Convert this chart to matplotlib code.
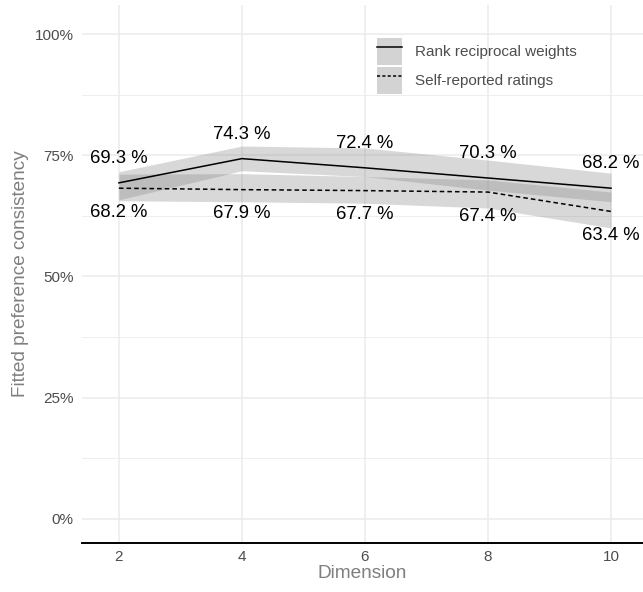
import numpy as np
import matplotlib.pyplot as plt
from matplotlib.lines import Line2D
from matplotlib.patches import Patch
from matplotlib.ticker import FixedLocator, FuncFormatter

plt.rcParams['font.family'] = ['Liberation Sans', 'DejaVu Sans']

# fitted consistency (%) by dimension, with confidence bands
dimension = [2, 4, 6, 8, 10]
rank_fit = [69.3, 74.3, 72.4, 70.3, 68.2]
rank_lo = [65.8, 71.8, 70.6, 67.8, 65.4]
rank_hi = [71.6, 76.9, 76.5, 74.0, 71.3]
self_fit = [68.2, 67.9, 67.7, 67.4, 63.4]
self_lo = [65.6, 65.4, 65.1, 64.1, 60.0]
self_hi = [71.1, 71.2, 70.6, 69.9, 67.4]
series_names = ['Rank reciprocal weights', 'Self-reported ratings']

fig = plt.figure(figsize=(6.43, 5.92), dpi=100)
ax = fig.add_axes([0.1275, 0.0828, 0.8725, 0.9088])

band_kw = dict(color='0.5', alpha=0.3, linewidth=0)
ax.fill_between(dimension, rank_lo, rank_hi, **band_kw)
ax.fill_between(dimension, self_lo, self_hi, **band_kw)
ax.plot(dimension, rank_fit, color='black', lw=1.1, linestyle='-')
ax.plot(dimension, self_fit, color='black', lw=1.1, linestyle=(0, (3, 2)))

# value labels, above the rank line and below the self-reported line
for x, v in zip(dimension, rank_fit):
    ax.text(x, v + 5, f'{v:.1f} %', ha='center', va='center', fontsize=13.3, color='black')
for x, v in zip(dimension, self_fit):
    ax.text(x, v - 5, f'{v:.1f} %', ha='center', va='center', fontsize=13.3, color='black')

ax.set_xlim(1.4, 10.52)
ax.set_ylim(-5, 106)
ax.set_xticks(dimension)
ax.yaxis.set_major_locator(FixedLocator([0, 25, 50, 75, 100]))
ax.yaxis.set_minor_locator(FixedLocator([12.5, 37.5, 62.5, 87.5]))
ax.yaxis.set_major_formatter(FuncFormatter(lambda v, p: f'{v:.0f}%'))

ax.grid(which='major', color='#ebebeb', lw=1.1)
ax.grid(which='minor', axis='y', color='#ebebeb', lw=0.6)
ax.set_axisbelow(True)
for s in ['top', 'right', 'left']:
    ax.spines[s].set_visible(False)
ax.spines['bottom'].set_linewidth(1.4)
ax.tick_params(axis='both', length=0, labelsize=11, labelcolor='#4d4d4d')
ax.tick_params(axis='y', pad=6)
ax.tick_params(axis='x', pad=5)
ax.tick_params(axis='both', which='minor', length=0)

ax.set_xlabel('Dimension', fontsize=13.7, color='#7f7f7f', labelpad=1)
ax.set_ylabel('Fitted preference consistency', fontsize=13.7, color='#7f7f7f', labelpad=4)

handles = [
    (Patch(facecolor='#d3d3d3', edgecolor='none'), Line2D([], [], color='black', lw=1.1)),
    (Patch(facecolor='#d3d3d3', edgecolor='none'), Line2D([], [], color='black', lw=1.1, linestyle=(0, (2, 1.5)))),
]
leg = ax.legend(handles, series_names, loc='upper left', bbox_to_anchor=(0.526, 0.9387),
                frameon=False, fontsize=11, labelcolor='#4d4d4d', borderpad=0, borderaxespad=0,
                handlelength=1.64, handleheight=2.31, handletextpad=0.85, labelspacing=0.15)

fig.savefig('out.png', dpi=100)
